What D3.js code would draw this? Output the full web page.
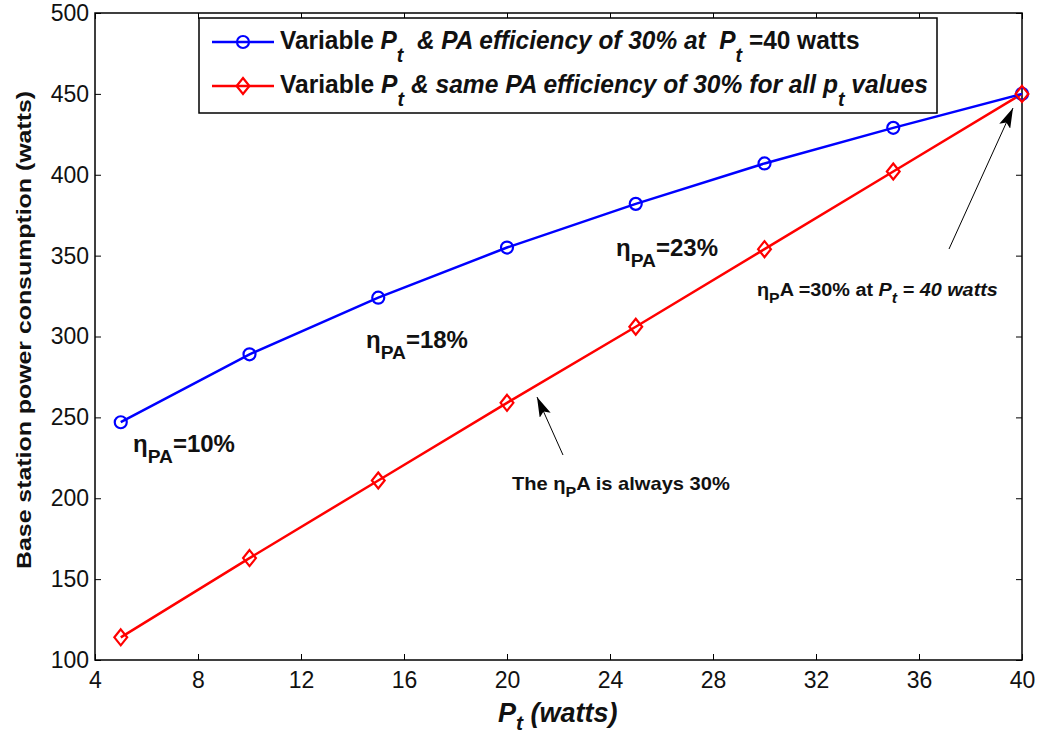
<!DOCTYPE html>
<html><head><meta charset="utf-8">
<script src="https://cdn.jsdelivr.net/npm/d3@7"></script>
<style>body{margin:0;background:#fff}svg{font-family:"Liberation Sans",Arial,sans-serif}</style>
</head><body>
<svg id="c" width="1047" height="737"></svg>
<script>
const ptValues = [5, 10, 15, 20, 25, 30, 35, 40];
const variableEff = [247, 289, 324, 355, 382, 407, 429, 450];
const sameEff = [114, 163, 211, 259, 306, 354, 402, 450];
const xTicks = [4, 8, 12, 16, 20, 24, 28, 32, 36, 40];
const yTicks = [100, 150, 200, 250, 300, 350, 400, 450, 500];

const svg = d3.select("#c");
const L = 95, R = 1022, T = 13, B = 660;
const x = d3.scaleLinear().domain([4, 40]).range([L, R]);
const y = d3.scaleLinear().domain([100, 500]).range([B, T]);

// axes box with inward ticks
const tl = 6;
svg.append("g").attr("transform", `translate(0,${B})`)
  .call(d3.axisBottom(x).tickValues(xTicks).tickSizeInner(-tl).tickSizeOuter(0).tickPadding(12))
  .call(g => g.select(".domain").remove())
  .call(g => g.selectAll("text").attr("font-size", 23).attr("fill", "#111").attr("font-family", "Liberation Sans, Arial"));
svg.append("g").attr("transform", `translate(0,${T})`)
  .call(d3.axisTop(x).tickValues(xTicks).tickSizeInner(-tl).tickSizeOuter(0).tickFormat(""))
  .call(g => g.select(".domain").remove());
svg.append("g").attr("transform", `translate(${L},0)`)
  .call(d3.axisLeft(y).tickValues(yTicks).tickSizeInner(-tl).tickSizeOuter(0).tickPadding(6))
  .call(g => g.select(".domain").remove())
  .call(g => g.selectAll("text").attr("font-size", 23).attr("fill", "#111").attr("font-family", "Liberation Sans, Arial"));
svg.append("g").attr("transform", `translate(${R},0)`)
  .call(d3.axisRight(y).tickValues(yTicks).tickSizeInner(-tl).tickSizeOuter(0).tickFormat(""))
  .call(g => g.select(".domain").remove());
svg.selectAll(".tick line").attr("stroke", "#000");
svg.append("rect").attr("x", L).attr("y", T).attr("width", R - L).attr("height", B - T)
  .attr("fill", "none").attr("stroke", "#000").attr("stroke-width", 1.5);

// lines
const line = d3.line().x((d, i) => x(ptValues[i])).y(d => y(d));
svg.append("path").datum(sameEff).attr("d", line).attr("fill", "none").attr("stroke", "#ff0000").attr("stroke-width", 2.5);
svg.append("path").datum(variableEff).attr("d", line).attr("fill", "none").attr("stroke", "#0000ff").attr("stroke-width", 2.5);

const diamond = (cx, cy, s) => `M${cx},${cy - s}L${cx + s * 0.8},${cy}L${cx},${cy + s}L${cx - s * 0.8},${cy}Z`;
svg.append("g").selectAll("circle").data(variableEff).join("circle")
  .attr("cx", (d, i) => x(ptValues[i])).attr("cy", d => y(d)).attr("r", 6)
  .attr("fill", "none").attr("stroke", "#0000ff").attr("stroke-width", 2.2);
svg.append("g").selectAll("path").data(sameEff).join("path")
  .attr("d", (d, i) => diamond(x(ptValues[i]), y(d), 8))
  .attr("fill", "none").attr("stroke", "#ff0000").attr("stroke-width", 2.2);

// helper: rich text with segments
function rich(g, px, py, size, segs, targetW, subShift) {
  const sh = subShift || 0.4;
  const t = g.append("text").attr("x", px).attr("y", py).attr("font-size", size).attr("font-weight", "bold").attr("fill", "#111");
  let sub = false;
  segs.forEach(s => {
    const ts = t.append("tspan").text(s.t).attr("xml:space", "preserve");
    if (s.i) ts.attr("font-style", "italic");
    if (s.sub && !sub) { ts.attr("dy", size * sh).attr("font-size", size * 0.8); sub = true; }
    else if (s.sub) { ts.attr("font-size", size * 0.8); }
    else if (!s.sub && sub) { ts.attr("dy", -size * sh); sub = false; }
  });
  t.style("white-space", "pre");
  if (targetW) {
    const w = t.node().getBBox().width;
    t.attr("transform", `translate(${px},0) scale(${targetW / w},1) translate(${-px},0)`);
  }
  return t;
}

// legend
const lg = svg.append("g");
lg.append("rect").attr("x", 199).attr("y", 18).attr("width", 738).attr("height", 95)
  .attr("fill", "#fff").attr("stroke", "#000").attr("stroke-width", 1.5);
[[ "#0000ff", 42, "c"], ["#ff0000", 86, "d"]].forEach(([col, yy, m]) => {
  lg.append("line").attr("x1", 212).attr("x2", 274).attr("y1", yy).attr("y2", yy).attr("stroke", col).attr("stroke-width", 2.5);
  if (m === "c") lg.append("circle").attr("cx", 243).attr("cy", yy).attr("r", 6).attr("fill", "none").attr("stroke", col).attr("stroke-width", 2.2);
  else lg.append("path").attr("d", diamond(243, yy, 8)).attr("fill", "none").attr("stroke", col).attr("stroke-width", 2.2);
});
rich(lg, 280, 49, 26, [
  {t: "Variable "}, {t: "P", i: 1}, {t: "t", i: 1, sub: 1}, {t: "  & PA efficiency of 30% at  ", i: 1},
  {t: "P", i: 1}, {t: "t", i: 1, sub: 1}, {t: " =40 watts"}], 580, 0.5);
rich(lg, 280, 93, 26, [
  {t: "Variable "}, {t: "P", i: 1}, {t: "t", i: 1, sub: 1}, {t: " & same PA efficiency of 30% for all ", i: 1},
  {t: "p", i: 1}, {t: "t", i: 1, sub: 1}, {t: " values", i: 1}], 648, 0.5);

// annotations
const an = svg.append("g");
const etaLabel = (px, py, pct) => rich(an, px, py, 24, [{t: "η"}, {t: "PA", sub: 1}, {t: "=" + pct}], 102, 0.45);
etaLabel(133, 452, "10%");
etaLabel(366, 348, "18%");
etaLabel(616, 256, "23%");
rich(an, 757, 296, 18, [{t: "η"}, {t: "P", sub: 1}, {t: "A =30% at "}, {t: "P", i: 1}, {t: "t", i: 1, sub: 1}, {t: " = 40 watts", i: 1}], 241);
rich(an, 512, 490, 18, [{t: "The η"}, {t: "P", sub: 1}, {t: "A is always 30%"}], 218);

// arrows
svg.append("defs").append("marker").attr("id", "ah").attr("viewBox", "0 0 20 12").attr("refX", 20).attr("refY", 6)
  .attr("markerWidth", 20).attr("markerHeight", 12).attr("markerUnits", "userSpaceOnUse").attr("orient", "auto")
  .append("path").attr("d", "M0,0L20,6L0,12L4,6Z").attr("fill", "#000");
an.append("line").attr("x1", 563).attr("y1", 455).attr("x2", 537).attr("y2", 397).attr("stroke", "#000").attr("stroke-width", 1).attr("marker-end", "url(#ah)");
an.append("line").attr("x1", 949).attr("y1", 249).attr("x2", 1013).attr("y2", 108).attr("stroke", "#000").attr("stroke-width", 1).attr("marker-end", "url(#ah)");

// axis titles
const xt = svg.append("text").attr("x", 498).attr("y", 722).attr("font-size", 27).attr("font-weight", "bold").attr("font-style", "italic").attr("fill", "#111");
xt.append("tspan").text("P");
xt.append("tspan").text("t").attr("dy", 8).attr("font-size", 21);
xt.append("tspan").text(" (watts)").attr("dy", -8).style("white-space", "pre");
svg.append("text").attr("transform", "translate(31,330) rotate(-90)").attr("text-anchor", "middle")
  .attr("font-size", 20).attr("font-weight", "bold").attr("fill", "#111")
  .attr("textLength", 478).attr("lengthAdjust", "spacingAndGlyphs")
  .text("Base station power consumption (watts)");
</script>
</body></html>
